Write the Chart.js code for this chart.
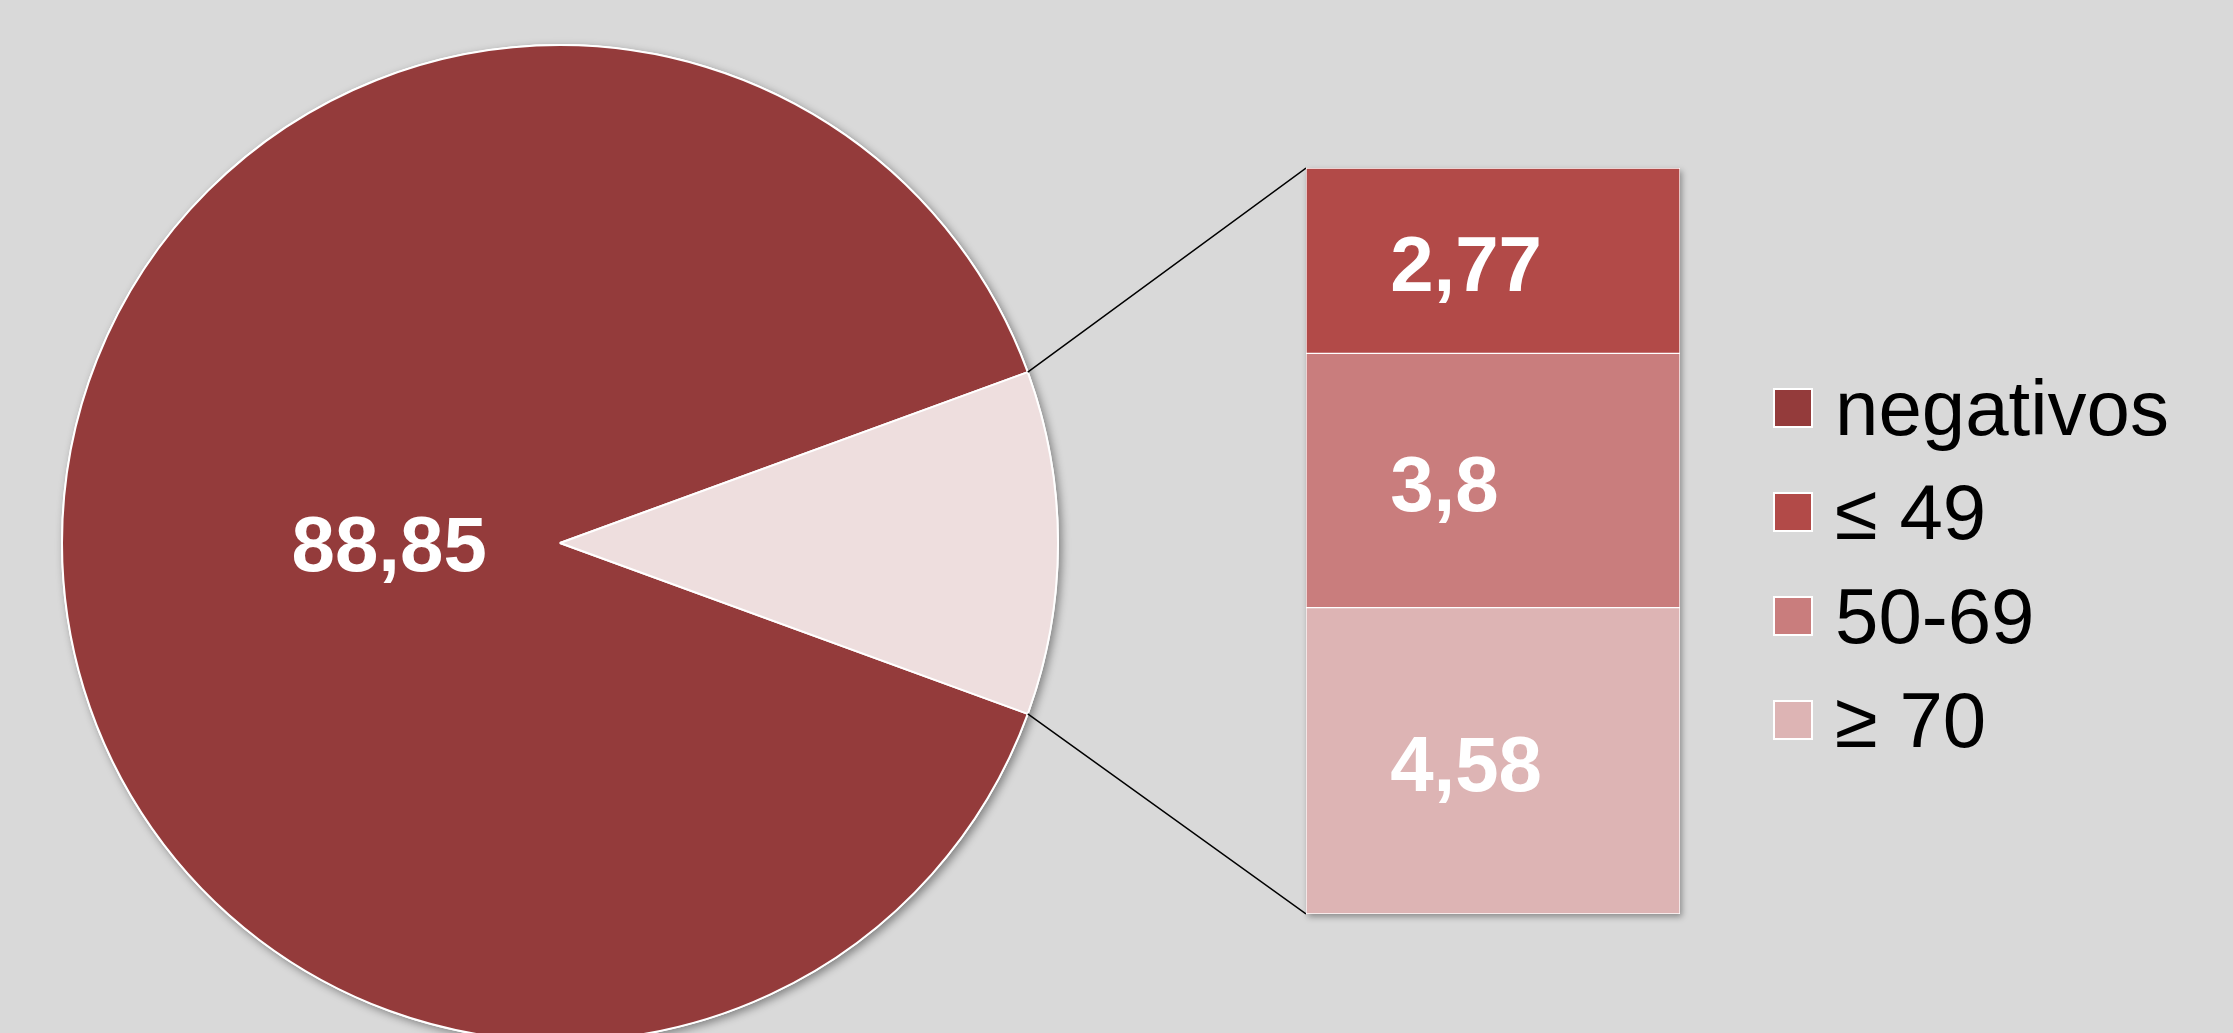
<!DOCTYPE html>
<html>
<head>
<meta charset="utf-8">
<script src="https://cdn.jsdelivr.net/npm/chart.js@4.4.1/dist/chart.umd.min.js"></script>
<style>
  html, body { margin: 0; padding: 0; background: #d9d9d9; width: 2233px; height: 1033px; overflow: hidden; }
  #pizza { position: absolute; left: 0; top: 0; }
  #barra { position: absolute; left: 1296px; top: 158px; }
  #legenda { position: absolute; left: 1773px; top: 356px; font-family: "Liberation Sans", Arial, sans-serif; font-size: 78px; color: #000; }
  .item { display: flex; align-items: center; height: 104px; white-space: nowrap; }
  .caixa { width: 40px; height: 40px; box-sizing: border-box; border: 2px solid #fff; margin-right: 22px; flex: none; }
</style>
</head>
<body>
<canvas id="pizza" width="1306" height="1033"></canvas>
<canvas id="barra" width="394" height="766"></canvas>
<div id="legenda"></div>
<script>
// dados (percentuais)
const categorias = ["negativos", "≤ 49", "50-69", "≥ 70"];
const valores = [88.85, 2.77, 3.8, 4.58];
const cores = ["#943b3b", "#b24a48", "#c97d7d", "#ddb4b4"];
const corOutros = "#eedede";

const fmt = v => String(v).replace(".", ",");
const totalOutros = valores.slice(1).reduce((a, b) => a + b, 0);
const ordemBarra = [3, 2, 1]; // de baixo para cima
const fonteRotulo = "bold 78px 'Liberation Sans', Arial, sans-serif";

// ===== legenda =====
const legenda = document.getElementById("legenda");
categorias.forEach((c, i) => {
  legenda.innerHTML += `<div class="item"><span class="caixa" style="background:${cores[i]}"></span><span>${c}</span></div>`;
});

// ===== barra empilhada =====
const sombraBarra = {
  id: "sombraBarra",
  beforeDatasetsDraw(chart) {
    const baixo = chart.getDatasetMeta(0).data[0];
    const topo = chart.getDatasetMeta(chart.data.datasets.length - 1).data[0];
    const ctx = chart.ctx;
    ctx.save();
    ctx.shadowColor = "rgba(0,0,0,0.35)";
    ctx.shadowBlur = 6;
    ctx.shadowOffsetX = 2;
    ctx.shadowOffsetY = 3;
    ctx.fillStyle = "#fff";
    ctx.fillRect(baixo.x - baixo.width / 2, topo.y, baixo.width, baixo.base - topo.y);
    ctx.restore();
  }
};

const rotulosBarra = {
  id: "rotulosBarra",
  afterDatasetsDraw(chart) {
    const ctx = chart.ctx;
    ctx.save();
    ctx.fillStyle = "#fff";
    ctx.font = fonteRotulo;
    ctx.textAlign = "left";
    ctx.textBaseline = "middle";
    chart.data.datasets.forEach((ds, i) => {
      const el = chart.getDatasetMeta(i).data[0];
      const x = el.x - el.width / 2 + el.width * 0.225;
      ctx.fillText(fmt(ds.data[0]), x, (el.y + el.base) / 2 + 9);
    });
    ctx.restore();
  }
};

const barChart = new Chart(document.getElementById("barra"), {
  type: "bar",
  data: {
    labels: [""],
    datasets: ordemBarra.map(i => ({
      label: categorias[i],
      data: [valores[i]],
      backgroundColor: cores[i],
      borderColor: "#fff",
      borderWidth: 1,
      borderSkipped: false,
      categoryPercentage: 1,
      barPercentage: 1
    }))
  },
  options: {
    responsive: false,
    animation: false,
    events: [],
    layout: { padding: 10 },
    plugins: { legend: { display: false }, tooltip: { enabled: false } },
    scales: {
      x: { display: false, stacked: true },
      y: { display: false, stacked: true, min: 0, max: totalOutros }
    }
  },
  plugins: [sombraBarra, rotulosBarra]
});

// ===== pizza =====
const sombraPizza = {
  id: "sombraPizza",
  beforeDatasetsDraw(chart) {
    const arco = chart.getDatasetMeta(0).data[0];
    const ctx = chart.ctx;
    ctx.save();
    ctx.shadowColor = "rgba(0,0,0,0.4)";
    ctx.shadowBlur = 8;
    ctx.shadowOffsetX = 3;
    ctx.shadowOffsetY = 3;
    ctx.fillStyle = "#fff";
    ctx.beginPath();
    ctx.arc(arco.x, arco.y, arco.outerRadius + 1, 0, Math.PI * 2);
    ctx.fill();
    ctx.restore();
  }
};

const rotuloPizza = {
  id: "rotuloPizza",
  afterDatasetsDraw(chart) {
    const arco = chart.getDatasetMeta(0).data[0];
    const meio = (arco.startAngle + arco.endAngle) / 2;
    const d = arco.outerRadius * 0.343;
    const ctx = chart.ctx;
    ctx.save();
    ctx.fillStyle = "#fff";
    ctx.font = fonteRotulo;
    ctx.textAlign = "center";
    ctx.textBaseline = "middle";
    ctx.fillText(fmt(chart.data.datasets[0].data[0]), arco.x + Math.cos(meio) * d, arco.y + Math.sin(meio) * d + 6);
    ctx.restore();
  }
};

// linhas ligando a fatia "outros" à barra
const conectores = {
  id: "conectores",
  afterDatasetsDraw(chart) {
    const arco = chart.getDatasetMeta(0).data[1];
    const dx = barChart.canvas.offsetLeft - chart.canvas.offsetLeft;
    const dy = barChart.canvas.offsetTop - chart.canvas.offsetTop;
    const topo = barChart.getDatasetMeta(barChart.data.datasets.length - 1).data[0];
    const baixo = barChart.getDatasetMeta(0).data[0];
    const r = arco.outerRadius;
    const ctx = chart.ctx;
    ctx.save();
    ctx.strokeStyle = "#000";
    ctx.lineWidth = 1.5;
    ctx.beginPath();
    ctx.moveTo(arco.x + r * Math.cos(arco.startAngle), arco.y + r * Math.sin(arco.startAngle));
    ctx.lineTo(dx + topo.x - topo.width / 2, dy + topo.y);
    ctx.moveTo(arco.x + r * Math.cos(arco.endAngle), arco.y + r * Math.sin(arco.endAngle));
    ctx.lineTo(dx + baixo.x - baixo.width / 2, dy + baixo.base);
    ctx.stroke();
    ctx.restore();
  }
};

const pieChart = new Chart(document.getElementById("pizza"), {
  type: "pie",
  data: {
    labels: [categorias[0], "outros"],
    datasets: [{
      data: [valores[0], totalOutros],
      backgroundColor: [cores[0], corOutros],
      borderColor: "#fff",
      borderWidth: 2,
      hoverOffset: 0
    }]
  },
  options: {
    responsive: false,
    animation: false,
    events: [],
    rotation: 90 + totalOutros / (valores[0] + totalOutros) * 180,
    radius: 498,
    layout: { padding: { left: 63, right: 249, top: 53, bottom: 0 } },
    plugins: { legend: { display: false }, tooltip: { enabled: false } }
  },
  plugins: [sombraPizza, rotuloPizza, conectores]
});
</script>
</body>
</html>
